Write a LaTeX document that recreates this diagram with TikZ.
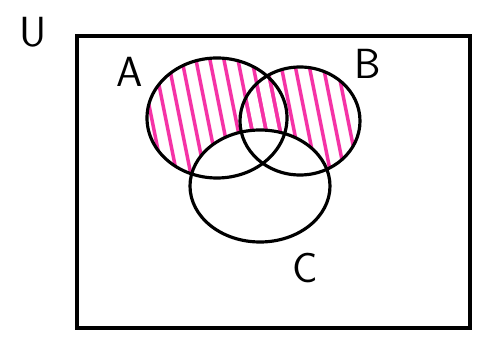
\documentclass[tikz,border=0pt]{standalone}
\usepackage{tikz}
\usetikzlibrary{positioning}
\definecolor{mypink}{rgb}{0.96, 0.2, 0.65}
\tikzstyle{setline} = [line width=1.8pt, black]
\tikzstyle{hatch} = [line width=2pt, mypink, line cap=round]
\tikzstyle{setlabel} = [font=\sffamily\fontsize{24}{24}\selectfont, inner sep=0pt]

\begin{document}
\begin{tikzpicture}[x=0.02cm, y=-0.02cm]
    \useasboundingbox (0,0) rectangle (480,347);
    % shaded part: A or B, outside C
    \begin{scope}[even odd rule]
        \clip (260,186) ellipse [x radius=70, y radius=56] (0,0) rectangle (480,347);
        \begin{scope}
            \clip (217,118) ellipse [x radius=70, y radius=60];
            \foreach \x in {124,138,...,370} \draw[hatch] (\x,50) -- (\x+28,190);
        \end{scope}
        \begin{scope}
            \clip (300,121) ellipse [x radius=60, y radius=54];
            \foreach \x in {124,138,...,370} \draw[hatch] (\x,50) -- (\x+28,190);
        \end{scope}
    \end{scope}
    % universe and sets
    \draw[setline] (77,36) rectangle (470,328);
    \draw[setline] (217,118) ellipse [x radius=70, y radius=60];
    \draw[setline] (300,121) ellipse [x radius=60, y radius=54];
    \draw[setline] (260,186) ellipse [x radius=70, y radius=56];
    \node (labU) [setlabel] at (33,32) {U};
    \node (labA) [setlabel] at (130,72) {A};
    \node (labB) [setlabel] at (368,64) {B};
    \node (labC) [setlabel] at (305,268) {C};
\end{tikzpicture}
\end{document}
